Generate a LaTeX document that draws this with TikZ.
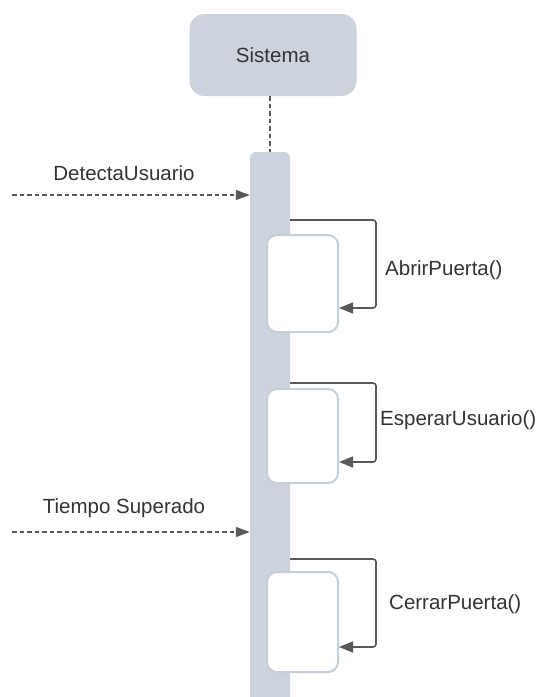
\documentclass[tikz,border=0pt]{standalone}
\usepackage{fontspec}
\setmainfont{Liberation Sans}
\usetikzlibrary{arrows.meta,calc}
\definecolor{gris}{HTML}{CDD3DC}
\definecolor{borde}{HTML}{C6CED9}
\definecolor{linea}{HTML}{595959}
\definecolor{texto}{HTML}{333333}
\tikzset{
  caja/.style={draw=none,fill=gris,rounded corners=15pt,inner sep=0pt,
    minimum width=167pt,minimum height=82pt,text=texto,font=\fontsize{20.5}{24}\selectfont},
  barra/.style={draw=none,fill=gris,rounded corners=6pt,inner sep=0pt,minimum width=40pt},
  activ/.style={draw=borde,fill=white,line width=2pt,rounded corners=10pt,inner sep=0pt,
    minimum width=71pt},
  llamada/.style={draw=linea,line width=1.6pt,rounded corners=3pt,
    -{Triangle[length=14pt,width=11pt]}},
  senal/.style={draw=linea,line width=1.3pt,dash pattern=on 4.5pt off 3pt,
    -{Triangle[length=14pt,width=10pt]}},
  etiqueta/.style={text=texto,font=\fontsize{20.5}{24}\selectfont,inner sep=0pt}
}
\begin{document}
\begin{tikzpicture}[x=1pt,y=-1pt]
        \useasboundingbox (0,0) rectangle (540,697);
        \node[caja] (sistema) at (273,55) {Sistema};
        \node[barra,minimum height=570pt] (barra) at (270,437) {};
        \draw[linea,line width=1.3pt,dash pattern=on 4.5pt off 3pt] (sistema.south -| barra) -- (barra.north);
        % activaciones
        \node[activ,minimum height=97pt] (act1) at (302.5,283.5) {};
        \node[activ,minimum height=94pt] (act2) at (302.5,436) {};
        \node[activ,minimum height=100pt] (act3) at (302.5,622) {};
        % mensajes propios
        \coordinate (s1) at (290,220);
        \coordinate (f1) at (act1.east |- 0,308);
        \coordinate (s2) at (290,383);
        \coordinate (f2) at (act2.east |- 0,462);
        \coordinate (s3) at (290,559);
        \coordinate (f3) at (act3.east |- 0,647);
        \draw[llamada] (s1) -- (s1 -| 376,0) -- (f1 -| 376,0) -- (f1);
        \draw[llamada] (s2) -- (s2 -| 376,0) -- (f2 -| 376,0) -- (f2);
        \draw[llamada] (s3) -- (s3 -| 376,0) -- (f3 -| 376,0) -- (f3);
        \node[etiqueta,anchor=west] (abrir) at (385,270) {AbrirPuerta()};
        \node[etiqueta,anchor=west] (esperar) at (380,420) {EsperarUsuario()};
        \node[etiqueta,anchor=west] (cerrar) at (389,604) {CerrarPuerta()};
        % eventos externos
        \coordinate (e1) at (12,195);
        \coordinate (e2) at (12,532);
        \draw[senal] (e1) -- (e1 -| barra.west);
        \draw[senal] (e2) -- (e2 -| barra.west);
        \node[etiqueta] (detecta) at (124,173) {DetectaUsuario};
        \node[etiqueta] (tiempo) at (124,508) {Tiempo Superado};
        \end{tikzpicture}
\end{document}
